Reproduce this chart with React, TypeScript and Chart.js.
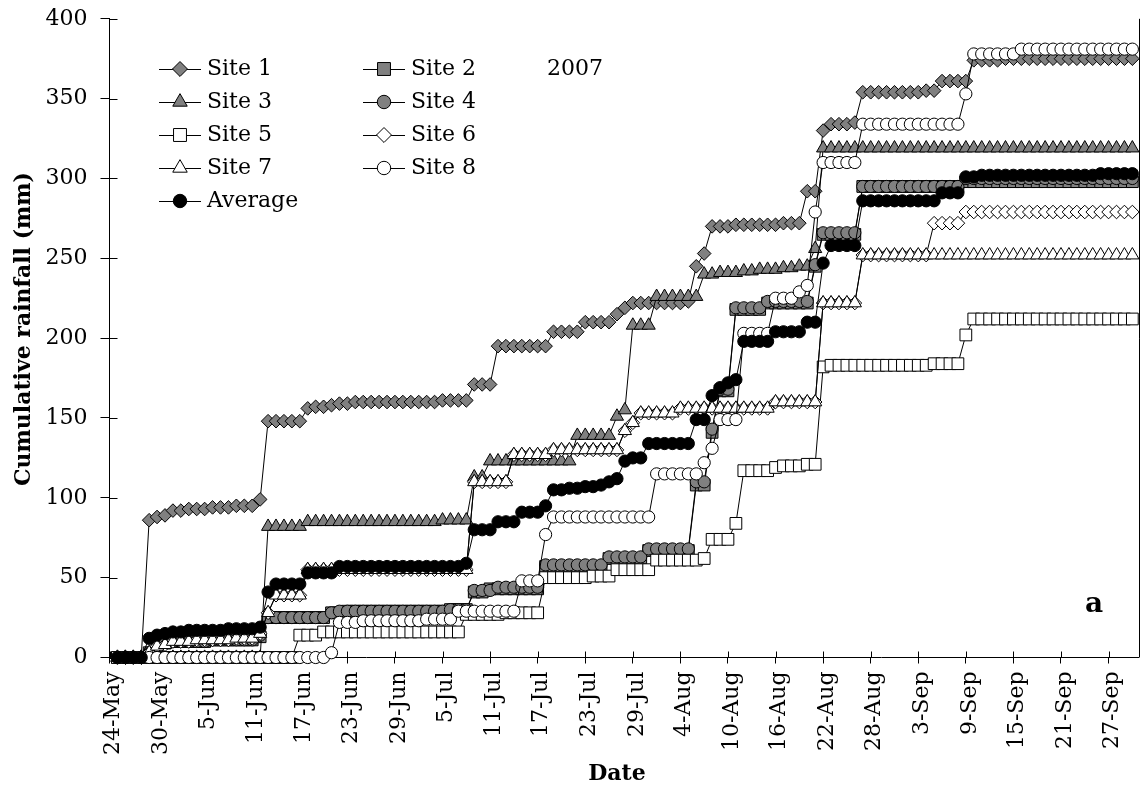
import React, { useEffect, useRef } from 'react';
import { Chart, registerables } from 'chart.js';

Chart.register(...registerables);

// day index: 0 = 24-May-2007; data start on day 1 (25-May)
const FIRST_DAY = 1;

const tickLabels = [
  '24-May', '30-May', '5-Jun', '11-Jun', '17-Jun', '23-Jun', '29-Jun', '5-Jul', '11-Jul', '17-Jul', '23-Jul',
  '29-Jul', '4-Aug', '10-Aug', '16-Aug', '22-Aug', '28-Aug', '3-Sep', '9-Sep', '15-Sep', '21-Sep', '27-Sep',
];

const seriesNames = ['Site 1', 'Site 2', 'Site 3', 'Site 4', 'Site 5', 'Site 6', 'Site 7', 'Site 8', 'Average'];

const site1 = [
  0, 0, 0, 0, 86, 88, 89, 92, 92, 93,
  93, 93, 94, 94, 94, 95, 95, 95, 99, 148,
  148, 148, 148, 148, 156, 157, 157, 158, 159, 159,
  160, 160, 160, 160, 160, 160, 160, 160, 160, 160,
  160, 161, 161, 161, 161, 171, 171, 171, 195, 195,
  195, 195, 195, 195, 195, 204, 204, 204, 204, 210,
  210, 210, 210, 215, 219, 222, 222, 222, 222, 222,
  222, 222, 223, 245, 253, 270, 270, 270, 271, 271,
  271, 271, 271, 271, 272, 272, 272, 292, 292, 330,
  334, 334, 334, 335, 354, 354, 354, 354, 354, 354,
  354, 354, 355, 355, 361, 361, 361, 361, 374, 374,
  374, 374, 375, 375, 375, 375, 375, 375, 375, 375,
  375, 375, 375, 375, 375, 375, 375, 375, 375,
];

const site2 = [
  0, 0, 0, 0, 3, 7, 9, 10, 10, 10,
  10, 10, 11, 11, 11, 11, 11, 11, 13, 25,
  25, 25, 25, 25, 25, 25, 25, 28, 28, 29,
  29, 29, 29, 29, 29, 29, 29, 29, 29, 29,
  29, 29, 30, 30, 30, 41, 41, 43, 43, 43,
  43, 43, 43, 43, 57, 57, 57, 57, 57, 57,
  57, 57, 62, 62, 62, 62, 62, 67, 67, 67,
  67, 67, 67, 108, 108, 141, 167, 167, 218, 218,
  218, 218, 222, 222, 222, 222, 222, 222, 245, 265,
  265, 265, 265, 265, 295, 295, 295, 295, 295, 295,
  295, 295, 295, 295, 295, 295, 295, 298, 298, 298,
  298, 298, 298, 298, 298, 298, 298, 298, 298, 298,
  298, 298, 298, 298, 298, 298, 298, 298, 298,
];

const site3 = [
  0, 0, 0, 0, 0, 0, 0, 0, 0, 0,
  0, 0, 0, 0, 0, 0, 0, 0, 0, 82,
  82, 82, 82, 82, 85, 85, 85, 85, 85, 85,
  85, 85, 85, 85, 85, 85, 85, 85, 85, 85,
  85, 86, 86, 86, 86, 113, 113, 123, 123, 123,
  123, 123, 123, 123, 123, 123, 123, 123, 139, 139,
  139, 139, 139, 151, 155, 208, 208, 208, 226, 226,
  226, 226, 226, 226, 240, 240, 241, 241, 241, 242,
  242, 243, 243, 243, 244, 244, 245, 245, 256, 319,
  319, 319, 319, 319, 319, 319, 319, 319, 319, 319,
  319, 319, 319, 319, 319, 319, 319, 319, 319, 319,
  319, 319, 319, 319, 319, 319, 319, 319, 319, 319,
  319, 319, 319, 319, 319, 319, 319, 319, 319,
];

const site4 = [
  0, 0, 0, 0, 3, 6, 9, 10, 10, 10,
  10, 10, 11, 11, 11, 11, 11, 11, 14, 25,
  25, 25, 25, 25, 25, 25, 25, 28, 29, 29,
  29, 29, 29, 29, 29, 29, 29, 29, 29, 29,
  29, 29, 30, 30, 30, 42, 42, 42, 44, 44,
  44, 44, 44, 44, 58, 58, 58, 58, 58, 58,
  58, 58, 63, 63, 63, 63, 63, 68, 68, 68,
  68, 68, 68, 110, 110, 143, 168, 168, 219, 219,
  219, 219, 223, 223, 223, 223, 223, 223, 246, 266,
  266, 266, 266, 266, 295, 295, 295, 295, 295, 295,
  295, 295, 295, 295, 295, 295, 295, 300, 300, 300,
  300, 300, 300, 300, 300, 300, 300, 300, 300, 300,
  300, 300, 300, 300, 300, 300, 300, 300, 300,
];

const site5 = [
  0, 0, 0, 0, 0, 0, 0, 0, 0, 0,
  0, 0, 0, 0, 0, 0, 0, 0, 0, 0,
  0, 0, 0, 14, 14, 14, 16, 16, 16, 16,
  16, 16, 16, 16, 16, 16, 16, 16, 16, 16,
  16, 16, 16, 16, 27, 27, 27, 27, 27, 28,
  28, 28, 28, 28, 50, 50, 50, 50, 50, 50,
  51, 51, 51, 55, 55, 55, 55, 55, 61, 61,
  61, 61, 61, 61, 62, 74, 74, 74, 84, 117,
  117, 117, 117, 119, 120, 120, 120, 121, 121, 182,
  183, 183, 183, 183, 183, 183, 183, 183, 183, 183,
  183, 183, 183, 184, 184, 184, 184, 202, 212, 212,
  212, 212, 212, 212, 212, 212, 212, 212, 212, 212,
  212, 212, 212, 212, 212, 212, 212, 212, 212,
];

const site6 = [
  0, 0, 0, 0, 3, 7, 8, 10, 10, 10,
  11, 11, 11, 11, 11, 12, 12, 12, 15, 28,
  39, 39, 39, 39, 55, 55, 55, 55, 55, 55,
  55, 55, 55, 55, 55, 55, 55, 55, 55, 55,
  55, 55, 55, 55, 55, 110, 110, 110, 110, 110,
  127, 127, 127, 127, 127, 130, 130, 130, 130, 130,
  130, 130, 130, 130, 142, 147, 153, 153, 153, 153,
  153, 156, 156, 156, 156, 156, 156, 156, 156, 156,
  156, 156, 156, 160, 160, 160, 160, 160, 160, 222,
  222, 222, 222, 222, 252, 252, 252, 252, 252, 252,
  252, 252, 252, 272, 272, 272, 272, 279, 279, 279,
  279, 279, 279, 279, 279, 279, 279, 279, 279, 279,
  279, 279, 279, 279, 279, 279, 279, 279, 279,
];

const site7 = [
  0, 0, 0, 0, 3, 7, 8, 10, 10, 10,
  11, 11, 11, 11, 11, 12, 12, 12, 15, 28,
  39, 39, 39, 39, 55, 55, 55, 55, 55, 55,
  55, 55, 55, 55, 55, 55, 55, 55, 55, 55,
  55, 55, 55, 55, 55, 110, 110, 110, 110, 110,
  127, 127, 127, 127, 127, 130, 130, 130, 130, 130,
  130, 130, 130, 130, 142, 147, 153, 153, 153, 153,
  153, 156, 156, 156, 156, 156, 156, 156, 156, 156,
  156, 156, 156, 160, 160, 160, 160, 160, 160, 222,
  222, 222, 222, 222, 252, 252, 252, 252, 252, 252,
  252, 252, 252, 252, 252, 252, 252, 252, 252, 252,
  252, 252, 252, 252, 252, 252, 252, 252, 252, 252,
  252, 252, 252, 252, 252, 252, 252, 252, 252,
];

const site8 = [
  0, 0, 0, 0, 0, 0, 0, 0, 0, 0,
  0, 0, 0, 0, 0, 0, 0, 0, 0, 0,
  0, 0, 0, 0, 0, 0, 0, 3, 22, 22,
  22, 23, 23, 23, 23, 23, 23, 23, 23, 24,
  24, 24, 24, 29, 29, 29, 29, 29, 29, 29,
  29, 48, 48, 48, 77, 88, 88, 88, 88, 88,
  88, 88, 88, 88, 88, 88, 88, 88, 115, 115,
  115, 115, 115, 115, 122, 131, 149, 149, 149, 203,
  203, 203, 203, 225, 225, 225, 229, 233, 279, 310,
  310, 310, 310, 310, 334, 334, 334, 334, 334, 334,
  334, 334, 334, 334, 334, 334, 334, 353, 378, 378,
  378, 378, 378, 378, 381, 381, 381, 381, 381, 381,
  381, 381, 381, 381, 381, 381, 381, 381, 381,
];

const average = [
  0, 0, 0, 0, 12, 14, 15, 16, 16, 17,
  17, 17, 17, 17, 18, 18, 18, 18, 19, 41,
  46, 46, 46, 46, 53, 53, 53, 53, 57, 57,
  57, 57, 57, 57, 57, 57, 57, 57, 57, 57,
  57, 57, 57, 57, 59, 80, 80, 80, 85, 85,
  85, 91, 91, 91, 95, 105, 105, 106, 106, 107,
  107, 108, 110, 112, 123, 125, 125, 134, 134, 134,
  134, 134, 134, 149, 149, 164, 169, 172, 174, 198,
  198, 198, 198, 204, 204, 204, 204, 210, 210, 247,
  258, 258, 258, 258, 286, 286, 286, 286, 286, 286,
  286, 286, 286, 286, 291, 291, 291, 301, 301, 302,
  302, 302, 302, 302, 302, 302, 302, 302, 302, 302,
  302, 302, 302, 302, 303, 303, 303, 303, 303,
];

const seriesValues = [site1, site2, site3, site4, site5, site6, site7, site8, average];

// marker styles (presentation only)
const GRAY = '#808080';
const markerStyles = [
  { shape: 'rectRot', fill: GRAY, r: 6.8 },
  { shape: 'rect', fill: GRAY, r: 8.3 },
  { shape: 'triangle', fill: GRAY, r: 7.6 },
  { shape: 'circle', fill: GRAY, r: 6.1 },
  { shape: 'rect', fill: '#ffffff', r: 8.3 },
  { shape: 'rectRot', fill: '#ffffff', r: 6.8 },
  { shape: 'triangle', fill: '#ffffff', r: 7.6 },
  { shape: 'circle', fill: '#ffffff', r: 6.1 },
  { shape: 'circle', fill: '#000000', r: 6.1 },
];

const SERIF = "'DejaVu Serif', serif";

// legend layout (pixels)
const LEG_COL_X = [159, 363];
const LEG_ROW_Y0 = 69;
const LEG_ROW_STEP = 33;
const LEG_LINE = 42;

function drawMarker(ctx: CanvasRenderingContext2D, shape: string, x: number, y: number, r: number, fill: string) {
  ctx.beginPath();
  if (shape === 'circle') {
    ctx.arc(x, y, r, 0, Math.PI * 2);
  } else if (shape === 'rect') {
    const s = Math.SQRT1_2 * r;
    ctx.rect(x - s, y - s, 2 * s, 2 * s);
  } else if (shape === 'rectRot') {
    ctx.moveTo(x - r, y);
    ctx.lineTo(x, y - r);
    ctx.lineTo(x + r, y);
    ctx.lineTo(x, y + r);
    ctx.closePath();
  } else if (shape === 'triangle') {
    ctx.moveTo(x, y - r);
    ctx.lineTo(x + 0.866 * r, y + 0.5 * r);
    ctx.lineTo(x - 0.866 * r, y + 0.5 * r);
    ctx.closePath();
  }
  ctx.fillStyle = fill;
  ctx.fill();
  ctx.strokeStyle = '#000';
  ctx.lineWidth = 1;
  ctx.stroke();
}

const decorPlugin = {
  id: 'decor',
  beforeDatasetsDraw(chart: any) {
    const { ctx, chartArea: a, scales } = chart;
    const x = scales.x;
    const y = scales.y;
    ctx.save();
    ctx.strokeStyle = '#000';
    ctx.lineWidth = 1;
    ctx.beginPath();
    x.ticks.forEach((t: any) => {
      const px = Math.round(x.getPixelForValue(t.value)) + 0.5;
      ctx.moveTo(px, a.bottom);
      ctx.lineTo(px, a.bottom - 6);
    });
    y.ticks.forEach((t: any) => {
      const py = Math.round(y.getPixelForValue(t.value)) + 0.5;
      ctx.moveTo(a.left, py);
      ctx.lineTo(a.left + 8, py);
    });
    const rx = Math.round(a.right) + 0.5;
    ctx.moveTo(rx, a.top);
    ctx.lineTo(rx, a.bottom);
    ctx.stroke();
    ctx.restore();
  },
  afterDraw(chart: any) {
    const { ctx } = chart;
    ctx.save();
    // legend symbols
    seriesNames.forEach((_, k) => {
      const col = k % 2;
      const row = Math.floor(k / 2);
      const x0 = LEG_COL_X[col];
      const yy = LEG_ROW_Y0 + row * LEG_ROW_STEP;
      ctx.beginPath();
      ctx.strokeStyle = '#000';
      ctx.lineWidth = 1;
      ctx.moveTo(x0, yy + 0.5);
      ctx.lineTo(x0 + LEG_LINE, yy + 0.5);
      ctx.stroke();
      const m = markerStyles[k];
      drawMarker(ctx, m.shape, x0 + LEG_LINE / 2, yy, m.r * 1.1, m.fill);
    });
    // axis titles
    ctx.fillStyle = '#000';
    ctx.font = `bold 22px ${SERIF}`;
    ctx.textAlign = 'center';
    ctx.textBaseline = 'alphabetic';
    ctx.fillText('Date', 617, 780);
    ctx.translate(30, 329);
    ctx.rotate(-Math.PI / 2);
    ctx.fillText('Cumulative rainfall (mm)', 0, 0);
    ctx.restore();
  },
};

export default function App() {
  const canvasRef = useRef<HTMLCanvasElement | null>(null);

  useEffect(() => {
    document.body.style.margin = '0';
    const canvas = canvasRef.current;
    if (!canvas) return;
    const datasets = seriesValues.map((vals, k) => {
      const m = markerStyles[k];
      return {
        label: seriesNames[k],
        data: vals.map((v, i) => ({ x: FIRST_DAY + i, y: v })),
        borderColor: '#000',
        borderWidth: 1,
        pointStyle: m.shape,
        pointRadius: m.r,
        pointHoverRadius: m.r,
        pointBackgroundColor: m.fill,
        pointBorderColor: '#000',
        pointBorderWidth: 1,
        tension: 0,
        fill: false,
        clip: false,
        order: seriesNames.length - k,
      };
    });
    const chart = new Chart(canvas, {
      type: 'line',
      data: { datasets } as any,
      options: {
        responsive: false,
        animation: false,
        events: [],
        layout: { padding: { left: 0, right: 6.3, top: 18.8, bottom: 0 } },
        plugins: { legend: { display: false }, tooltip: { enabled: false } },
        scales: {
          x: {
            type: 'linear',
            min: 0,
            max: 129.8,
            afterFit: (s: any) => {
              s.height = 129.5;
              s.paddingLeft = 0;
              s.paddingRight = 0;
            },
            ticks: {
              stepSize: 6,
              autoSkip: false,
              includeBounds: false,
              maxRotation: 90,
              minRotation: 90,
              padding: 8,
              labelOffset: 4,
              color: '#000',
              font: { family: SERIF, size: 22 },
              callback: (v: any) => tickLabels[Math.round(Number(v) / 6)] ?? '',
            },
            grid: { drawOnChartArea: false, drawTicks: true, tickLength: 6, color: '#000', lineWidth: 1 },
            border: { display: true, color: '#000', width: 1 },
          },
          y: {
            min: 0,
            max: 400,
            afterFit: (s: any) => {
              s.width = 109.5;
              s.paddingTop = 0;
              s.paddingBottom = 0;
            },
            ticks: { stepSize: 50, padding: 13, color: '#000', font: { family: SERIF, size: 22 } },
            grid: { drawOnChartArea: false, drawTicks: true, tickLength: 9, color: '#000', lineWidth: 1 },
            border: { display: true, color: '#000', width: 1 },
          },
        },
      } as any,
      plugins: [decorPlugin],
    });
    return () => chart.destroy();
  }, []);

  const legendText = (label: string, k: number) => {
    const col = k % 2;
    const row = Math.floor(k / 2);
    return (
      <div
        key={label}
        style={{
          position: 'absolute',
          left: LEG_COL_X[col] + LEG_LINE + 6,
          top: LEG_ROW_Y0 + row * LEG_ROW_STEP - 14,
          font: `22px ${SERIF}`,
          lineHeight: '26px',
          whiteSpace: 'nowrap',
          color: '#000',
        }}
      >
        {label}
      </div>
    );
  };

  return (
    <div style={{ position: 'relative', width: 1148, height: 787, background: '#fff' }}>
      <canvas ref={canvasRef} width={1148} height={787} style={{ display: 'block' }} />
      {seriesNames.map((n, k) => legendText(n, k))}
      <div style={{ position: 'absolute', left: 547, top: LEG_ROW_Y0 - 14, font: `22px ${SERIF}`, lineHeight: '26px', color: '#000' }}>
        2007
      </div>
      <div style={{ position: 'absolute', left: 1085, top: 587, font: `bold 28px ${SERIF}`, lineHeight: '32px', color: '#000' }}>
        a
      </div>
    </div>
  );
}
